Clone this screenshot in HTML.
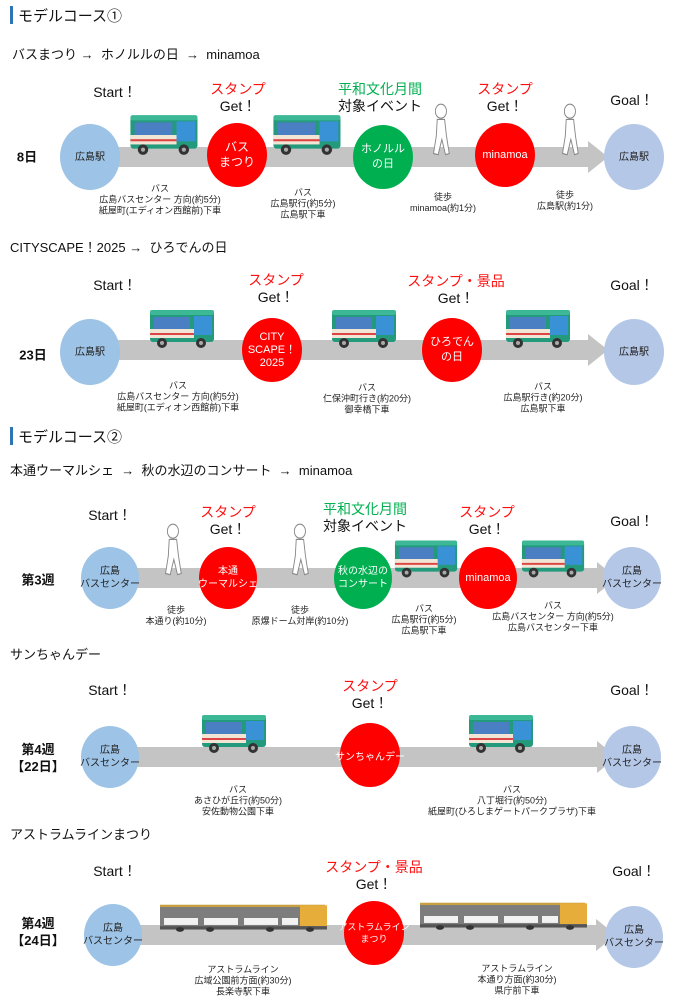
<!DOCTYPE html>
<html><head><meta charset="utf-8">
<style>
*{margin:0;padding:0;box-sizing:border-box}
body{width:694px;height:1000px;background:#fff;position:relative;overflow:hidden;font-family:"Liberation Sans","Noto Sans CJK JP",sans-serif;color:#111}
.a{position:absolute;white-space:nowrap}
.m{position:absolute;transform:translate(-50%,-50%);text-align:center;white-space:nowrap}
.c{position:absolute;transform:translate(-50%,-50%);border-radius:50%;display:flex;align-items:center;justify-content:center;text-align:center;color:#fff;white-space:nowrap}
.b{background:#9dc3e6;color:#222;font-size:10px;line-height:13px}
.e{background:#b4c7e7;color:#222;font-size:10px;line-height:13px}
.r{background:#ff0000}
.g{background:#00b050}
.lb{font-size:9px;line-height:11px;color:#222}
.t{font-size:14px;line-height:16px}
.red{color:#ff1010}.grn{color:#00b050}
.bar{position:absolute;height:20px;background:#c4c4c4}
.hd{position:absolute;left:10px;width:3px;height:18px;background:#2e75b6}
.h{font-size:15px}
.st{font-size:13px}
.day{font-size:13px;font-weight:bold;line-height:17px}
svg.i{position:absolute}
</style></head><body>
<svg width="0" height="0" style="position:absolute">
<defs>
<symbol id="bus" viewBox="0 0 70 42">
<rect x="2" y="3" width="64" height="31" rx="3" fill="#239a7c"/>
<rect x="2" y="2" width="64" height="5" rx="2" fill="#3cb896"/>
<rect x="6" y="9" width="36" height="12" fill="#4b7fc4"/>
<rect x="46" y="8" width="18" height="19" fill="#3a92d6"/>
<rect x="2" y="21" width="44" height="9" fill="#f1e6d6"/>
<rect x="2" y="25" width="44" height="2" fill="#d44"/>
<circle cx="14" cy="35" r="5" fill="#333"/><circle cx="14" cy="35" r="2" fill="#aaa"/>
<circle cx="53" cy="35" r="5" fill="#333"/><circle cx="53" cy="35" r="2" fill="#aaa"/>
</symbol>
<symbol id="walk" viewBox="0 0 26 46" preserveAspectRatio="none">
<circle cx="14" cy="7" r="6" fill="#fff" stroke="#888"/>
<path d="M10 14 L18 14 L20 28 L23 43 L19 44 L15 31 L11 44 L6 43 L9 28 Z" fill="#fff" stroke="#888"/>
</symbol>
<symbol id="train" viewBox="0 0 170 52" preserveAspectRatio="none">
<rect x="0" y="4" width="165" height="36" fill="#7d7d7d"/>
<rect x="0" y="3" width="165" height="4" fill="#c9a040"/>
<rect x="140" y="4" width="27" height="36" fill="#e7ad3a"/>
<rect x="4" y="26" width="34" height="12" fill="#f2f2f2"/><rect x="44" y="26" width="34" height="12" fill="#f2f2f2"/>
<rect x="84" y="26" width="34" height="12" fill="#f2f2f2"/><rect x="122" y="26" width="16" height="12" fill="#f2f2f2"/>
<rect x="0" y="40" width="167" height="6" fill="#555"/>
<circle cx="20" cy="46" r="4" fill="#333"/><circle cx="50" cy="46" r="4" fill="#333"/><circle cx="110" cy="46" r="4" fill="#333"/><circle cx="150" cy="46" r="4" fill="#333"/>
</symbol>
<symbol id="arw" viewBox="0 0 20 32"><path d="M0 0 L20 16 L0 32 Z" fill="#c4c4c4"/></symbol>
</defs></svg>

<!-- Section 1 -->
<div class="hd" style="top:6px"></div>
<div class="a h" style="left:18px;top:5px">モデルコース①</div>
<div class="a st" style="left:12px;top:44px">バスまつり →&nbsp; ホノルルの日 &nbsp;→&nbsp; minamoa</div>
<div class="m t" style="left:115px;top:92px">Start！</div>
<div class="m t" style="left:238px;top:98px;line-height:17px"><span class="red">スタンプ</span><br>Get！</div>
<div class="m t" style="left:380px;top:98px;line-height:17px"><span class="grn">平和文化月間</span><br>対象イベント</div>
<div class="m t" style="left:505px;top:98px;line-height:17px"><span class="red">スタンプ</span><br>Get！</div>
<div class="m t" style="left:632px;top:100px">Goal！</div>
<div class="bar" style="left:115px;top:147px;width:475px"></div>
<svg class="i" style="left:588px;top:141px" width="20" height="32"><use href="#arw"/></svg>
<svg class="i" style="left:128px;top:113px" width="74" height="44"><use href="#bus"/></svg>
<svg class="i" style="left:271px;top:113px" width="74" height="44"><use href="#bus"/></svg>
<svg class="i" style="left:428px;top:103px" width="24" height="54"><use href="#walk"/></svg>
<svg class="i" style="left:557px;top:103px" width="24" height="54"><use href="#walk"/></svg>
<div class="m day" style="left:27px;top:157px">8日</div>
<div class="c b" style="left:90px;top:157px;width:60px;height:66px">広島駅</div>
<div class="c r" style="left:237px;top:155px;width:60px;height:64px;font-size:12px;line-height:15px">バス<br>まつり</div>
<div class="c g" style="left:383px;top:157px;width:60px;height:64px;font-size:11px;line-height:15px">ホノルル<br>の日</div>
<div class="c r" style="left:505px;top:155px;width:60px;height:64px;font-size:11px">minamoa</div>
<div class="c e" style="left:634px;top:157px;width:60px;height:66px">広島駅</div>
<div class="m lb" style="left:160px;top:200px">バス<br>広島バスセンター 方向(約5分)<br>紙屋町(エディオン西館前)下車</div>
<div class="m lb" style="left:303px;top:204px">バス<br>広島駅行(約5分)<br>広島駅下車</div>
<div class="m lb" style="left:443px;top:203px">徒歩<br>minamoa(約1分)</div>
<div class="m lb" style="left:565px;top:201px">徒歩<br>広島駅(約1分)</div>

<!-- Section 2 -->
<div class="a st" style="left:10px;top:237px">CITYSCAPE！2025 →&nbsp; ひろでんの日</div>
<div class="m t" style="left:115px;top:285px">Start！</div>
<div class="m t" style="left:276px;top:289px;line-height:17px"><span class="red">スタンプ</span><br>Get！</div>
<div class="m t" style="left:456px;top:290px;line-height:17px"><span class="red">スタンプ・景品</span><br>Get！</div>
<div class="m t" style="left:632px;top:285px">Goal！</div>
<div class="bar" style="left:115px;top:340px;width:475px"></div>
<svg class="i" style="left:588px;top:334px" width="20" height="32"><use href="#arw"/></svg>
<svg class="i" style="left:148px;top:307px" width="70" height="44"><use href="#bus"/></svg>
<svg class="i" style="left:330px;top:307px" width="70" height="44"><use href="#bus"/></svg>
<svg class="i" style="left:504px;top:307px" width="70" height="44"><use href="#bus"/></svg>
<div class="m day" style="left:33px;top:355px">23日</div>
<div class="c b" style="left:90px;top:352px;width:60px;height:66px">広島駅</div>
<div class="c r" style="left:272px;top:350px;width:60px;height:64px;font-size:11px;line-height:13px">CITY<br>SCAPE！<br>2025</div>
<div class="c r" style="left:452px;top:350px;width:60px;height:64px;font-size:11px;line-height:15px">ひろでん<br>の日</div>
<div class="c e" style="left:634px;top:352px;width:60px;height:66px">広島駅</div>
<div class="m lb" style="left:178px;top:397px">バス<br>広島バスセンター 方向(約5分)<br>紙屋町(エディオン西館前)下車</div>
<div class="m lb" style="left:367px;top:399px">バス<br>仁保沖町行き(約20分)<br>御幸橋下車</div>
<div class="m lb" style="left:543px;top:398px">バス<br>広島駅行き(約20分)<br>広島駅下車</div>

<!-- Section 3 -->
<div class="hd" style="top:427px"></div>
<div class="a h" style="left:18px;top:426px">モデルコース②</div>
<div class="a st" style="left:10px;top:460px">本通ウーマルシェ &nbsp;→&nbsp; 秋の水辺のコンサート &nbsp;→&nbsp; minamoa</div>
<div class="m t" style="left:110px;top:515px">Start！</div>
<div class="m t" style="left:228px;top:521px;line-height:17px"><span class="red">スタンプ</span><br>Get！</div>
<div class="m t" style="left:365px;top:518px;line-height:17px"><span class="grn">平和文化月間</span><br>対象イベント</div>
<div class="m t" style="left:487px;top:521px;line-height:17px"><span class="red">スタンプ</span><br>Get！</div>
<div class="m t" style="left:632px;top:521px">Goal！</div>
<div class="bar" style="left:130px;top:568px;width:470px"></div>
<svg class="i" style="left:160px;top:523px" width="24" height="54"><use href="#walk"/></svg>
<svg class="i" style="left:287px;top:523px" width="24" height="54"><use href="#walk"/></svg>
<svg class="i" style="left:597px;top:562px" width="20" height="32"><use href="#arw"/></svg>
<svg class="i" style="left:393px;top:538px" width="68" height="42"><use href="#bus"/></svg>
<svg class="i" style="left:520px;top:538px" width="68" height="42"><use href="#bus"/></svg>
<div class="m day" style="left:38px;top:580px">第3週</div>
<div class="c b" style="left:110px;top:578px;width:58px;height:62px">広島<br>バスセンター</div>
<div class="c r" style="left:228px;top:578px;width:58px;height:62px;font-size:10px;line-height:13px">本通<br>ウーマルシェ</div>
<div class="c g" style="left:363px;top:578px;width:58px;height:62px;font-size:10px;line-height:13px">秋の水辺の<br>コンサート</div>
<div class="c r" style="left:488px;top:578px;width:58px;height:62px;font-size:11px">minamoa</div>
<div class="c e" style="left:632px;top:578px;width:58px;height:62px">広島<br>バスセンター</div>
<div class="m lb" style="left:176px;top:616px">徒歩<br>本通り(約10分)</div>
<div class="m lb" style="left:300px;top:616px">徒歩<br>原爆ドーム対岸(約10分)</div>
<div class="m lb" style="left:424px;top:620px">バス<br>広島駅行(約5分)<br>広島駅下車</div>
<div class="m lb" style="left:553px;top:617px">バス<br>広島バスセンター 方向(約5分)<br>広島バスセンター下車</div>

<!-- Section 4 -->
<div class="a st" style="left:10px;top:644px">サンちゃんデー</div>
<div class="m t" style="left:110px;top:690px">Start！</div>
<div class="m t" style="left:370px;top:695px;line-height:17px"><span class="red">スタンプ</span><br>Get！</div>
<div class="m t" style="left:632px;top:690px">Goal！</div>
<div class="bar" style="left:130px;top:747px;width:470px"></div>
<svg class="i" style="left:597px;top:741px" width="20" height="32"><use href="#arw"/></svg>
<svg class="i" style="left:200px;top:712px" width="70" height="44"><use href="#bus"/></svg>
<svg class="i" style="left:467px;top:712px" width="70" height="44"><use href="#bus"/></svg>
<div class="m day" style="left:38px;top:758px">第4週<br>【22日】</div>
<div class="c b" style="left:110px;top:757px;width:58px;height:62px">広島<br>バスセンター</div>
<div class="c r" style="left:370px;top:755px;width:60px;height:64px;font-size:10px">サンちゃんデー</div>
<div class="c e" style="left:632px;top:757px;width:58px;height:62px">広島<br>バスセンター</div>
<div class="m lb" style="left:238px;top:801px">バス<br>あさひが丘行(約50分)<br>安佐動物公園下車</div>
<div class="m lb" style="left:512px;top:801px">バス<br>八丁堀行(約50分)<br>紙屋町(ひろしまゲートパークプラザ)下車</div>

<!-- Section 5 -->
<div class="a st" style="left:10px;top:824px">アストラムラインまつり</div>
<div class="m t" style="left:115px;top:871px">Start！</div>
<div class="m t" style="left:374px;top:876px;line-height:17px"><span class="red">スタンプ・景品</span><br>Get！</div>
<div class="m t" style="left:634px;top:871px">Goal！</div>
<div class="bar" style="left:135px;top:925px;width:463px"></div>
<svg class="i" style="left:596px;top:919px" width="20" height="32"><use href="#arw"/></svg>
<svg class="i" style="left:160px;top:903px" width="170" height="30"><use href="#train"/></svg>
<svg class="i" style="left:420px;top:901px" width="170" height="30"><use href="#train"/></svg>
<div class="m day" style="left:38px;top:932px">第4週<br>【24日】</div>
<div class="c b" style="left:113px;top:935px;width:58px;height:62px">広島<br>バスセンター</div>
<div class="c r" style="left:374px;top:933px;width:60px;height:64px;font-size:9px;line-height:12px">アストラムライン<br>まつり</div>
<div class="c e" style="left:634px;top:937px;width:58px;height:62px">広島<br>バスセンター</div>
<div class="m lb" style="left:243px;top:981px">アストラムライン<br>広域公園前方面(約30分)<br>長楽寺駅下車</div>
<div class="m lb" style="left:517px;top:980px">アストラムライン<br>本通り方面(約30分)<br>県庁前下車</div>
</body></html>
